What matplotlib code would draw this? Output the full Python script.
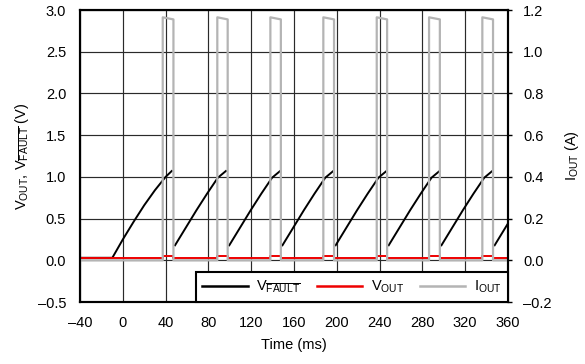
import numpy as np
import matplotlib
matplotlib.use("Agg")
import matplotlib.pyplot as plt
from matplotlib.ticker import FuncFormatter, MultipleLocator

plt.rcParams['font.family'] = ['Liberation Sans', 'DejaVu Sans']
plt.rcParams['mathtext.fontset'] = 'custom'
plt.rcParams['mathtext.rm'] = 'Liberation Sans'
plt.rcParams['mathtext.it'] = 'Liberation Sans'
plt.rcParams['font.size'] = 10.5

# hiccup pulses of the output current (ms)
pulse_start = [37.3, 88.3, 137.9, 187.4, 237.3, 286.2, 336.0]
pulse_end = [47.3, 98.0, 147.7, 197.4, 247.0, 296.3, 346.0]
i_peak_rise = 1.165   # A, at the leading edge
i_peak_fall = 1.155   # A, at the trailing edge

# fault pin: first charge-up from power-on
fault_first_t = [-40.0, -9.8, 0.0, 10.0, 20.0, 30.0, 40.0, 45.7]
fault_first_v = [0.03, 0.03, 0.25, 0.46, 0.66, 0.84, 1.00, 1.07]
# fault pin ramp after each pulse (time after pulse end, volts)
fault_ramp_dt = [1.5, 11.5, 21.5, 31.5, 41.5, 49.0]
fault_ramp_v = [0.18, 0.39, 0.60, 0.80, 0.99, 1.07]

vout_idle = 0.025
vout_pulse = 0.05

# build the traces
t_i, i_out = [-40.0], [0.0]
t_vo, v_out = [-40.0], [vout_idle]
for s, e in zip(pulse_start, pulse_end):
    t_i += [s, s, e, e]
    i_out += [0.0, i_peak_rise, i_peak_fall, 0.0]
    t_vo += [s, s, e, e]
    v_out += [vout_idle, vout_pulse, vout_pulse, vout_idle]
t_i.append(360.0); i_out.append(0.0)
t_vo.append(360.0); v_out.append(vout_idle)

t_f, v_f = list(fault_first_t), list(fault_first_v)
for e in pulse_end:
    t_f.append(np.nan); v_f.append(np.nan)
    t_f += [e + d for d in fault_ramp_dt]
    v_f += fault_ramp_v

fig = plt.figure(figsize=(5.85, 3.64), dpi=100)
ax = fig.add_axes([0.1368, 0.1703, 0.7316, 0.8022])
ax2 = ax.twinx()

l_fault, = ax.plot(t_f, v_f, color='black', lw=1.4, label=r'V$_{\overline{\mathrm{FAULT}}}$')
l_vout, = ax.plot(t_vo, v_out, color='#ee0000', lw=1.4, label=r'V$_{\mathrm{OUT}}$')
l_iout, = ax2.plot(t_i, i_out, color='#b4b4b4', lw=1.6, label=r'I$_{\mathrm{OUT}}$')

ax.set_xlim(-40, 360)
ax.set_ylim(-0.5, 3.0)
ax2.set_ylim(-0.2, 1.2)
ax.xaxis.set_major_locator(MultipleLocator(40))
ax.yaxis.set_major_locator(MultipleLocator(0.5))
ax2.yaxis.set_major_locator(MultipleLocator(0.2))

dash = lambda fmt: FuncFormatter(lambda v, p: (fmt % v).replace('-', '\u2013'))
ax.xaxis.set_major_formatter(dash('%d'))
ax.yaxis.set_major_formatter(dash('%.1f'))
ax2.yaxis.set_major_formatter(dash('%.1f'))

ax.grid(True, color='#2a2a2a', lw=0.85)
ax.set_axisbelow(True)
ax.tick_params(axis='x', length=0, pad=10)
ax.tick_params(axis='y', length=0, pad=10)
ax2.tick_params(axis='y', length=3, width=1, pad=8)
for a in (ax, ax2):
    for sp in a.spines.values():
        sp.set_linewidth(1.5)

ax.set_xlabel('Time (ms)', labelpad=6)
ax.set_ylabel(r'V$_{\mathrm{OUT}}$, V$_{\overline{\mathrm{FAULT}}}$ (V)', labelpad=5)
ax2.set_ylabel(r'I$_{\mathrm{OUT}}$ (A)', rotation=90, labelpad=8)

leg = ax2.legend(handles=[l_fault, l_vout, l_iout], loc='lower right', ncol=3,
                 borderaxespad=0, fancybox=False, framealpha=1, edgecolor='black',
                 handlelength=3.1, handletextpad=0.6, columnspacing=1.1,
                 borderpad=0.45)
leg.get_frame().set_linewidth(1.5)
for h in leg.get_lines():
    h.set_linewidth(1.8)

fig.savefig('out.png', dpi=100)
